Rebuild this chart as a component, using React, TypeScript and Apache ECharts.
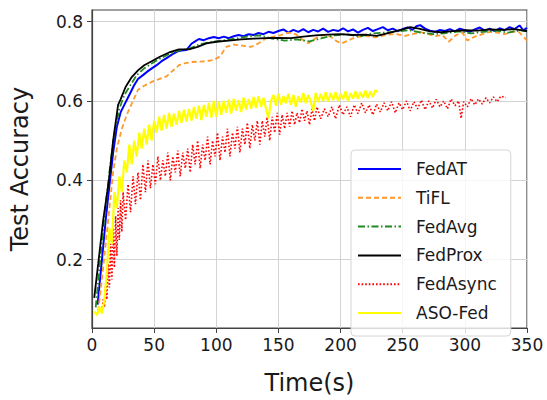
import React, { useEffect, useRef } from "react";
import * as echarts from "echarts";

const xTicks = [0, 50, 100, 150, 200, 250, 300, 350];
const yTicks = [0.2, 0.4, 0.6, 0.8];
const seriesNames = ["FedAT", "TiFL", "FedAvg", "FedProx", "FedAsync", "ASO-Fed"];

const fedAT = [
  [4.5, 0.087], [8, 0.2], [11, 0.3], [13.6, 0.375], [17, 0.47], [20, 0.535], [23, 0.571], [26, 0.59], [30, 0.615],
  [34, 0.64], [37, 0.655], [41, 0.665], [45, 0.675], [49, 0.684], [52, 0.69], [56, 0.7], [60, 0.708], [63, 0.714],
  [66, 0.72], [69, 0.725], [72, 0.727], [76, 0.728], [80, 0.744], [83, 0.75], [86, 0.756], [90, 0.753], [94, 0.758],
  [98, 0.761], [102, 0.758], [106, 0.762], [110, 0.758], [114, 0.763], [118, 0.766], [122, 0.763], [126, 0.768],
  [130, 0.766], [134, 0.771], [138, 0.768], [142, 0.774], [146, 0.771], [150, 0.776], [154, 0.78], [158, 0.772],
  [162, 0.779], [166, 0.774], [170, 0.781], [174, 0.773], [178, 0.779], [182, 0.775],
  [186, 0.782], [190, 0.774], [194, 0.779], [198, 0.776], [202, 0.783], [206, 0.775], [210, 0.78], [214, 0.772],
  [218, 0.779], [222, 0.784], [226, 0.776], [230, 0.781], [234, 0.786], [238, 0.778], [242, 0.782], [246, 0.776],
  [250, 0.781], [254, 0.785], [258, 0.779], [261, 0.788], [264, 0.791], [268, 0.782], [272, 0.777], [276, 0.774],
  [280, 0.779], [284, 0.776], [288, 0.781], [292, 0.775], [296, 0.782], [300, 0.778], [304, 0.774], [308, 0.78],
  [312, 0.785], [316, 0.777], [320, 0.782], [324, 0.776], [328, 0.783], [332, 0.778], [336, 0.786], [340, 0.781],
  [344, 0.79], [347, 0.778], [350, 0.784],
];

const tiFL = [
  [5, 0.07], [9, 0.18], [13, 0.3], [17, 0.42], [20, 0.48], [24, 0.53], [28, 0.565], [33, 0.6], [37, 0.628], [42, 0.638],
  [48, 0.648], [54, 0.655], [60, 0.662], [65, 0.676], [70, 0.69], [75, 0.695], [80, 0.698], [86, 0.699], [92, 0.7],
  [98, 0.703], [103, 0.712], [108, 0.736], [114, 0.742], [121, 0.739], [128, 0.736], [134, 0.745], [140, 0.757],
  [146, 0.762], [152, 0.766], [158, 0.772], [164, 0.768], [169, 0.755], [174, 0.745], [180, 0.758], [186, 0.766],
  [192, 0.762], [197, 0.75], [201, 0.745], [206, 0.752], [212, 0.76], [220, 0.764], [228, 0.76], [236, 0.766],
  [244, 0.769], [252, 0.764], [258, 0.768], [264, 0.773], [270, 0.769], [276, 0.763], [282, 0.766], [287, 0.749],
  [293, 0.766], [298, 0.772], [302, 0.752], [308, 0.762], [314, 0.768], [320, 0.774], [326, 0.772], [332, 0.768],
  [338, 0.774], [343, 0.775], [347, 0.762], [350, 0.752],
];

const fedAvg = [
  [3, 0.08], [6, 0.18], [10, 0.31], [14, 0.42], [18, 0.52], [22, 0.58], [26, 0.615], [30, 0.635], [36, 0.665],
  [42, 0.682], [48, 0.694], [55, 0.707], [62, 0.718], [70, 0.727], [78, 0.731], [86, 0.742], [95, 0.748], [105, 0.752],
  [115, 0.757], [125, 0.762], [135, 0.765], [145, 0.757], [155, 0.752], [165, 0.755], [175, 0.75], [185, 0.758],
  [195, 0.765], [205, 0.768], [215, 0.762], [225, 0.77], [235, 0.772], [245, 0.775], [255, 0.778], [265, 0.772],
  [275, 0.768], [285, 0.771], [295, 0.775], [305, 0.77], [315, 0.774], [325, 0.777], [335, 0.772], [345, 0.778],
  [350, 0.775],
];

const fedProx = [
  [1.8, 0.104], [5, 0.19], [9, 0.3], [13.6, 0.4], [17, 0.5], [21, 0.59], [23, 0.604], [27, 0.635], [32, 0.66],
  [37, 0.677], [42, 0.69], [48, 0.7], [55, 0.712], [62, 0.722], [70, 0.73], [78, 0.73], [85, 0.736], [92, 0.745],
  [100, 0.749], [110, 0.752], [120, 0.755], [130, 0.757], [140, 0.758], [150, 0.759], [160, 0.758],
  [170, 0.762], [180, 0.765], [190, 0.767], [200, 0.768], [210, 0.766], [220, 0.767], [229, 0.764], [240, 0.772],
  [250, 0.78], [256, 0.786], [263, 0.782], [272, 0.775], [281, 0.773], [290, 0.776], [300, 0.778], [310, 0.777],
  [320, 0.78], [330, 0.779], [340, 0.781], [350, 0.776],
];

const fedAsync = [
  [8, 0.07], [9, 0.1], [10, 0.08], [11, 0.14], [12, 0.1], [13, 0.19], [14, 0.13], [15, 0.24], [16, 0.15], [17, 0.28],
  [18, 0.18], [19, 0.31], [20, 0.21], [21, 0.33], [22, 0.25], [23, 0.35], [24, 0.27], [25, 0.37], [27, 0.3], [29, 0.39],
  [31, 0.32], [33, 0.41], [35, 0.34], [37, 0.42], [39, 0.35], [41, 0.44], [43, 0.37], [45, 0.45], [47, 0.38], [49, 0.44],
  [51, 0.39], [53, 0.46], [55, 0.4], [57, 0.45], [59, 0.41], [61, 0.47], [63, 0.4], [65, 0.46], [67, 0.42], [69, 0.475],
  [71, 0.41], [73, 0.47], [75, 0.43], [77, 0.48], [79, 0.42], [81, 0.49], [83, 0.44], [85, 0.5], [87, 0.43], [89, 0.49],
  [91, 0.45], [93, 0.51], [95, 0.44], [97, 0.5], [99, 0.46], [101, 0.52], [103, 0.45], [105, 0.51], [107, 0.47],
  [109, 0.53], [111, 0.46], [113, 0.52], [115, 0.48], [117, 0.535], [119, 0.47], [121, 0.53], [123, 0.49], [125, 0.545],
  [127, 0.48], [129, 0.54], [131, 0.5], [133, 0.55], [135, 0.49], [137, 0.55], [139, 0.51], [141, 0.56], [143, 0.5],
  [145, 0.56], [147, 0.52], [149, 0.57], [151, 0.515], [153, 0.565], [155, 0.53], [157, 0.57], [159, 0.535],
  [161, 0.575], [163, 0.54], [165, 0.57], [167, 0.545], [169, 0.58], [171, 0.55], [173, 0.575], [175, 0.54], [177, 0.58],
  [179, 0.55], [181, 0.585], [184, 0.555], [187, 0.58], [190, 0.56], [193, 0.585], [196, 0.555], [199, 0.59],
  [202, 0.565], [205, 0.585], [208, 0.56], [211, 0.59], [214, 0.568], [217, 0.595], [220, 0.57], [223, 0.59],
  [226, 0.565], [229, 0.592], [232, 0.572], [235, 0.595], [238, 0.575], [241, 0.598], [244, 0.57], [247, 0.595],
  [250, 0.578], [253, 0.6], [256, 0.575], [259, 0.598], [262, 0.58], [265, 0.602], [268, 0.578], [271, 0.6],
  [274, 0.582], [277, 0.604], [280, 0.585], [283, 0.6], [286, 0.58], [289, 0.605], [292, 0.588], [295, 0.6],
  [297, 0.556], [299, 0.598], [302, 0.585], [305, 0.606], [308, 0.59], [311, 0.605], [314, 0.592], [317, 0.608],
  [320, 0.595], [323, 0.61], [326, 0.598], [329, 0.612], [333, 0.608],
];

const asoFed = [
  [2, 0.07], [4, 0.06], [6, 0.08], [8, 0.065], [10, 0.1], [12, 0.17], [14, 0.28], [16, 0.24], [18, 0.37], [20, 0.33],
  [22, 0.41], [24, 0.37], [26, 0.45], [28, 0.42], [30, 0.49], [32, 0.44], [34, 0.5], [36, 0.46], [38, 0.52], [40, 0.48],
  [42, 0.53], [44, 0.49], [46, 0.54], [48, 0.5], [50, 0.55], [52, 0.52], [54, 0.56], [56, 0.525], [58, 0.565],
  [60, 0.53], [62, 0.57], [64, 0.535], [66, 0.568], [68, 0.54], [70, 0.575], [72, 0.545], [74, 0.578], [76, 0.548],
  [78, 0.58], [80, 0.55], [82, 0.585], [84, 0.555], [86, 0.588], [88, 0.552], [90, 0.59], [92, 0.56], [94, 0.595],
  [96, 0.558], [98, 0.6], [100, 0.56], [102, 0.598], [104, 0.565], [106, 0.6], [108, 0.57], [110, 0.603], [112, 0.568],
  [114, 0.605], [116, 0.575], [118, 0.602], [120, 0.572], [122, 0.608], [124, 0.578], [126, 0.605], [128, 0.58],
  [130, 0.61], [132, 0.582], [134, 0.612], [136, 0.585], [138, 0.608], [140, 0.58], [142, 0.556], [144, 0.6],
  [146, 0.615], [148, 0.588], [150, 0.618], [152, 0.59], [154, 0.612], [156, 0.594], [158, 0.618], [160, 0.59],
  [162, 0.615], [164, 0.585], [166, 0.612], [168, 0.596], [170, 0.62], [172, 0.594], [174, 0.615], [176, 0.598],
  [178, 0.575], [180, 0.62], [182, 0.597], [184, 0.618], [186, 0.6], [188, 0.622], [190, 0.598], [192, 0.62],
  [194, 0.602], [196, 0.622], [198, 0.6], [200, 0.618], [202, 0.604], [204, 0.624], [206, 0.6], [208, 0.62],
  [210, 0.606], [212, 0.624], [214, 0.605], [216, 0.622], [218, 0.608], [220, 0.626], [222, 0.607], [224, 0.624],
  [226, 0.61], [228, 0.627], [230, 0.622],
];

const FONT = "DejaVu Sans";

export default function App() {
  const ref = useRef<HTMLDivElement>(null);
  useEffect(() => {
    if (!ref.current) return;
    const chart = echarts.init(ref.current, null, { renderer: "svg" });
    const mk = (name: string, data: number[][], color: string, width: number, type: any) => ({
      name,
      type: "line",
      data,
      showSymbol: false,
      symbol: "none",
      lineStyle: { color, width, type },
      itemStyle: { color },
      emphasis: { disabled: true },
    });
    chart.setOption({
      animation: false,
      textStyle: { fontFamily: FONT },
      grid: {
        left: 82.7,
        right: 20,
        top: 10,
        bottom: 58.3,
        show: true,
        borderColor: "#444",
        borderWidth: 1.2,
        backgroundColor: "rgba(0,0,0,0)",
      },
      xAxis: {
        type: "value",
        min: 0,
        max: 350,
        interval: 50,
        name: "Time(s)",
        nameLocation: "middle",
        nameGap: 43,
        nameTextStyle: { fontSize: 24, color: "#1a1a1a", fontFamily: FONT },
        axisLine: { show: true, lineStyle: { color: "#444", width: 1.2 } },
        axisTick: { show: true, length: 5, lineStyle: { color: "#444" } },
        axisLabel: {
          fontSize: 17,
          color: "#1a1a1a",
          margin: 8,
          fontFamily: FONT,
          formatter: (v: number) => (xTicks.includes(v) ? String(v) : ""),
        },
        splitLine: { show: true, lineStyle: { color: "#d3d3d3", width: 1 } },
      },
      yAxis: {
        type: "value",
        min: 0.028,
        max: 0.829,
        name: "Test Accuracy",
        nameLocation: "middle",
        nameGap: 60,
        nameTextStyle: { fontSize: 24, color: "#1a1a1a", fontFamily: FONT },
        axisLine: { show: true, lineStyle: { color: "#444", width: 1.2 } },
        axisTick: { show: true, length: 5, lineStyle: { color: "#444" }, customValues: yTicks },
        axisLabel: {
          fontSize: 17,
          color: "#1a1a1a",
          margin: 9,
          fontFamily: FONT,
          customValues: yTicks,
          formatter: (v: number) => v.toFixed(1),
        },
        splitLine: { show: true, lineStyle: { color: "#d3d3d3", width: 1 } },
      },
      legend: {
        data: seriesNames,
        orient: "vertical",
        left: 351,
        top: 150,
        padding: [9, 14, 13, 6],
        itemWidth: 43,
        itemHeight: 1,
        itemGap: 8.8,
        itemStyle: { opacity: 0 },
        backgroundColor: "rgba(255,255,255,0.8)",
        borderColor: "#d6d6d6",
        borderWidth: 1,
        borderRadius: 4,
        z: 10,
        textStyle: {
          fontSize: 17,
          color: "#1a1a1a",
          fontFamily: FONT,
          lineHeight: 20,
          padding: [0, 0, 0, 10],
        },
      },
      series: [
        mk("FedAT", fedAT, "#0000ff", 2, "solid"),
        mk("TiFL", tiFL, "#ff9a2e", 1.8, [5, 3]),
        mk("FedAvg", fedAvg, "#218a21", 1.8, [7, 2.5, 1.5, 2.5]),
        mk("FedProx", fedProx, "#000000", 1.8, "solid"),
        mk("FedAsync", fedAsync, "#ff0000", 1.6, [1.6, 2]),
        mk("ASO-Fed", asoFed, "#ffff00", 2.2, "solid"),
      ],
    });
    return () => chart.dispose();
  }, []);
  return (
    <div
      ref={ref}
      style={{ position: "fixed", left: 0, top: 0, width: 547, height: 400, background: "#fff" }}
    />
  );
}
